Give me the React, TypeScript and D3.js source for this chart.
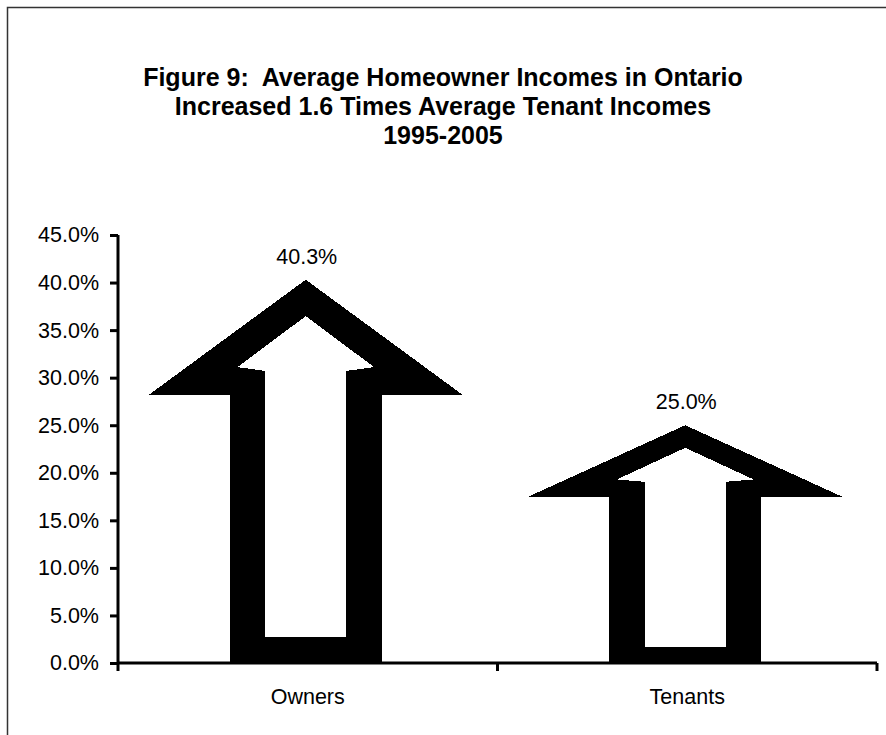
import React from "react";
import * as d3 from "d3";

const categories = ["Owners", "Tenants"];
const values = [40.3, 25.0];
const valueLabels = ["40.3%", "25.0%"];
const yTicks = [0, 5, 10, 15, 20, 25, 30, 35, 40, 45];
const titleLines = [
    "Figure 9:  Average Homeowner Incomes in Ontario",
    "Increased 1.6 Times Average Tenant Incomes",
    "1995-2005",
];

const width = 886;
const height = 735;
const plot = { left: 118, right: 877, top: 235, bottom: 663 };
const font = "Liberation Sans, Arial, sans-serif";

const App = () => {
    const svgRef = React.useRef<SVGSVGElement>(null);

    React.useEffect(() => {
        const svg = d3.select(svgRef.current);
        svg.selectAll("*").remove();

        // frame (only top and left edges are inside the picture)
        svg.append("path")
            .attr("d", `M7.5,${height} V7.5 H${width}`)
            .attr("fill", "none")
            .attr("stroke", "#333")
            .attr("stroke-width", 1.5);

        // title
        svg.append("g")
            .selectAll("text")
            .data(titleLines)
            .enter()
            .append("text")
            .attr("x", 443)
            .attr("y", (d, i) => 86 + i * 29)
            .attr("text-anchor", "middle")
            .attr("font-family", font)
            .attr("font-weight", "bold")
            .attr("font-size", 25)
            .style("white-space", "pre")
            .text((d) => d);

        const yScale = d3.scaleLinear().domain([0, 45]).range([plot.bottom, plot.top]);
        const xScale = d3.scaleBand().domain(categories).range([plot.left, plot.right]).padding(0);

        // arrows
        const bw = xScale.bandwidth();
        const y0 = yScale(0);
        const arrows = svg.append("g").attr("shape-rendering", "crispEdges");
        categories.forEach((cat, i) => {
            const cx = (xScale(cat) as number) + bw / 2 - 2;
            const h = y0 - yScale(values[i]);
            const at = (f: number) => y0 - f * h;
            const outer: [number, number][] = [
                [cx - 0.2 * bw, y0],
                [cx - 0.2 * bw, at(0.7)],
                [cx - 0.413 * bw, at(0.7)],
                [cx, at(1)],
                [cx + 0.413 * bw, at(0.7)],
                [cx + 0.2 * bw, at(0.7)],
                [cx + 0.2 * bw, y0],
            ];
            const inner: [number, number][] = [
                [cx - 0.107 * bw, at(0.068)],
                [cx - 0.107 * bw, at(0.762)],
                [cx - 0.18 * bw, at(0.772)],
                [cx, at(0.905)],
                [cx + 0.18 * bw, at(0.772)],
                [cx + 0.107 * bw, at(0.762)],
                [cx + 0.107 * bw, at(0.068)],
            ];
            const line = d3.line().curve(d3.curveLinearClosed);
            arrows.append("path").attr("d", line(outer)).attr("fill", "#000");
            arrows.append("path").attr("d", line(inner)).attr("fill", "#fff");
        });

        // value labels
        svg.append("g")
            .selectAll("text")
            .data(categories)
            .enter()
            .append("text")
            .attr("x", (d) => (xScale(d) as number) + bw / 2 - 1)
            .attr("y", (d, i) => yScale(values[i]) - 16)
            .attr("text-anchor", "middle")
            .attr("font-family", font)
            .attr("font-size", 21.5)
            .text((d, i) => valueLabels[i]);

        // y axis
        const yAxis = d3
            .axisLeft(yScale)
            .tickValues(yTicks)
            .tickSize(8)
            .tickPadding(11)
            .tickFormat((v) => `${(+v).toFixed(1)}%`);
        const yAxisGroup = svg
            .append("g")
            .attr("transform", `translate(${plot.left},0)`)
            .call(yAxis);
        yAxisGroup.select(".domain")
            .attr("d", `M0,${plot.top}V${plot.bottom + 8}`)
            .attr("stroke", "#000")
            .attr("stroke-width", 3);
        yAxisGroup.selectAll("line").attr("stroke", "#000").attr("stroke-width", 3);
        yAxisGroup
            .selectAll("text")
            .attr("font-family", font)
            .attr("font-size", 21.5)
            .attr("fill", "#000");

        // x axis
        const xAxisGroup = svg.append("g").attr("transform", `translate(0,${plot.bottom})`);
        xAxisGroup.append("path")
            .attr("d", `M${plot.left},0H${plot.right}`)
            .attr("stroke", "#000")
            .attr("stroke-width", 3);
        xAxisGroup.selectAll(".tick")
            .data([plot.left + bw, plot.left + 2 * bw])
            .enter()
            .append("line")
            .attr("x1", (d) => d)
            .attr("x2", (d) => d)
            .attr("y1", 0)
            .attr("y2", 8)
            .attr("stroke", "#000")
            .attr("stroke-width", 3);
        xAxisGroup.selectAll(".cat")
            .data(categories)
            .enter()
            .append("text")
            .attr("x", (d) => (xScale(d) as number) + bw / 2)
            .attr("y", 41)
            .attr("text-anchor", "middle")
            .attr("font-family", font)
            .attr("font-size", 21.5)
            .text((d) => d);
    }, []);

    return (
        <svg
            ref={svgRef}
            width={width}
            height={height}
            style={{ position: "absolute", left: 0, top: 0, background: "#fff" }}
        />
    );
};

export default App;
